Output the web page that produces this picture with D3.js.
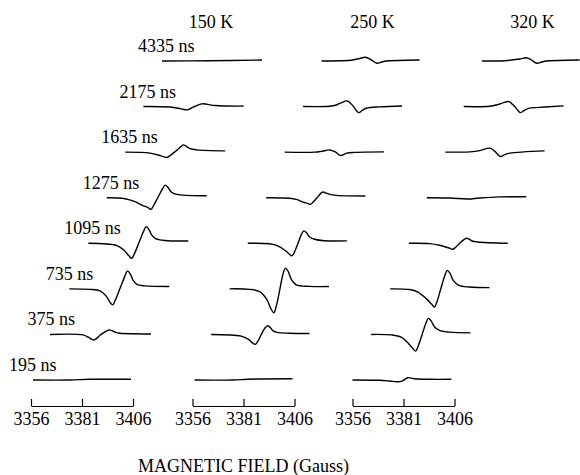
<!DOCTYPE html>
<head>
  <meta charset="utf-8">
  <style>
  body { margin: 0; background: #fff; }
  text {
    font-family: 'Liberation Serif', 'Times New Roman', serif;
    fill: #000;
  }
  .trace {
    fill: none;
    stroke: #000;
    stroke-width: 1.4px;
    stroke-linejoin: round;
  }
  .axis path, .axis line { stroke: #000; stroke-width: 1.2px; }
  .axis text { font-size: 18px; font-family: 'Liberation Serif', 'Times New Roman', serif; }
  </style>
</head>
<body>
  <svg id="chart"></svg>

  <script src="https://d3js.org/d3.v7.min.js"></script>
  <script>

  var width = 580,
      height = 475;

  // Column headers, row labels and field ticks
  var temperatures = ['150 K', '250 K', '320 K'];
  var delays = ['195 ns', '375 ns', '735 ns', '1095 ns', '1275 ns', '1635 ns', '2175 ns', '4335 ns'];
  var fieldTicks = [3356, 3381, 3406];

  // Spectra as [field (G), signal (a.u.)], one list per delay, bottom row first
  var spectra150 = [
    [[3357, 0], [3375, 0], [3385, 0.7], [3405, 0.7]],
    [[3356.3, 0], [3372.5, -0.5], [3375, -2.8], [3376.6, -4.7], [3377.9, -5.5], [3379.1, -4], [3381.3, 0], [3384, 3.3],
     [3385.3, 4.5], [3386.6, 3.8], [3388.5, 2], [3390.6, 1.2], [3405.8, 0.5]],
    [[3356.7, 0], [3366.9, -0.5], [3371.8, -2], [3374.7, -7], [3376.7, -13.6], [3378, -16], [3379.2, -11.5], [3381.5, 0],
     [3384, 13], [3385.2, 18], [3386.5, 15.3], [3388, 8.5], [3389.8, 4.5], [3393.8, 3], [3405.7, 2.4]],
    [[3357, 0], [3371, -2.3], [3374.5, -7], [3377, -12.8], [3378.3, -15], [3379.5, -10.8], [3381.7, 0], [3384.1, 12],
     [3385.3, 16.7], [3386.6, 14.2], [3388, 8.5], [3389.7, 5], [3394.6, 2.8], [3406, 2.3]],
    [[3357, 0], [3366, -1], [3370.9, -4], [3374.8, -8], [3377.3, -10], [3378.6, -11.7], [3379.8, -8.4], [3382, 0],
     [3384.4, 9], [3385.6, 12.6], [3386.9, 10.7], [3388.5, 6], [3391.3, 3.3], [3406, 2]],
    [[3357, 0], [3369.2, -1], [3374.1, -3.5], [3376.1, -4.7], [3377.4, -5.3], [3378.6, -4], [3381.5, 0.5], [3384.3, 5.5],
     [3385.5, 7.3], [3386.8, 6], [3388.8, 3.5], [3392.1, 2.3], [3406, 1.3]],
    [[3356.9, 0], [3370, -0.5], [3374.9, -2], [3378.2, -3.3], [3381.3, -0.5], [3385.5, 2.7], [3392.1, 1], [3406, 0.5]],
    [[3357, 0], [3380, 0.3], [3406, 1]]
  ];

  var spectra250 = [
    [[3357, 0], [3376, 0], [3383, 0.8], [3405, 1.2]],
    [[3356.1, 0], [3370.8, -1.7], [3374.4, -5], [3376.4, -8.5], [3377.7, -10], [3378.9, -7.2], [3380.7, 0], [3382.4, 6.2],
     [3383.6, 8.6], [3384.9, 7.3], [3386.5, 3.5], [3388.5, 2], [3394.5, 1.2], [3404.3, 1]],
    [[3356.1, 0], [3365.9, -0.5], [3370.8, -2.7], [3374.2, -10], [3376.5, -20.4], [3377.8, -24], [3379, -17.3], [3380.8, 0],
     [3382.3, 14.9], [3383.5, 20.7], [3384.8, 17.6], [3386.5, 9], [3388.8, 4], [3395.3, 2.5], [3404.8, 2.3]],
    [[3356, 0], [3366.7, -0.5], [3370.7, -2.6], [3374.5, -7.5], [3376.3, -10.7], [3377.6, -12.6], [3378.8, -9.1], [3380.6, 0],
     [3382.3, 8.9], [3383.5, 12.4], [3384.8, 10.5], [3386.5, 6], [3388.7, 4], [3393.6, 2.5], [3404.6, 2.4]],
    [[3356, 0], [3367.5, -0.5], [3370.7, -1.7], [3374.3, -4.5], [3376.3, -5.7], [3377.6, -6.7], [3378.8, -4.8], [3380.9, 0],
     [3382.6, 4.1], [3383.8, 5.7], [3385.1, 4.8], [3387.1, 3.3], [3390.3, 2.3], [3404.6, 1.7]],
    [[3356, 0], [3370.7, 0], [3374.1, 0.8], [3378.1, 2.2], [3381, 0], [3383.4, -3.3], [3386.4, -1], [3390.3, -0.2], [3404.7, 0.3]],
    [[3356, 0], [3369, 0.3], [3372.3, 1.6], [3374.4, 3.5], [3377.7, 5.6], [3380.3, 1], [3383.2, -6], [3385.2, -3.5],
     [3387, -1.7], [3393.5, -0.3], [3404.5, 0.6]],
    [[3356, 0], [3364.9, 0.2], [3371.4, 1], [3374.7, 2.5], [3377.5, 3.7], [3380.1, 1.5], [3383.2, -2.3], [3385.5, -1],
     [3387.8, 0], [3404.1, 1]]
  ];

  var spectra320 = [
    [[3356, 0], [3369.2, -0.3], [3374.1, -1], [3378.1, -1.8], [3380.5, -0.8], [3383.1, 2.3], [3386.4, 1.3], [3393.7, 0.7], [3404.5, 0.7]],
    [[3356.1, 0], [3366.1, -0.5], [3370.8, -2.7], [3374.4, -9], [3376.6, -14.2], [3377.9, -16.7], [3379.1, -12], [3381.1, 0],
     [3383, 11.5], [3384.2, 16], [3385.5, 13.6], [3387, 8], [3389.6, 4], [3394.5, 2.3], [3404.8, 1.6]],
    [[3356.4, 0], [3365.9, -0.7], [3370, -3.2], [3374.2, -10], [3376.8, -15.5], [3378.1, -18.2], [3379.3, -13.1], [3381.2, 0],
     [3383.2, 13.3], [3384.4, 18.5], [3385.7, 15.7], [3387.3, 8.5], [3390.1, 3.5], [3395.3, 1.8], [3405.1, 1.2]],
    [[3356.5, 0], [3366.7, -0.3], [3371.6, -2], [3375, -4], [3376.8, -5.1], [3378.1, -6], [3379.3, -4.3], [3381.4, 0],
     [3383.5, 3.6], [3384.7, 5], [3386, 4.2], [3387.5, 2.3], [3390.3, 1.3], [3405, 0]],
    [[3356.3, 0], [3367.5, -0.3], [3376.4, -1.3], [3382.2, -0.3], [3392, 0.8], [3405, 1]],
    [[3356.3, 0], [3368.3, 0.3], [3373.2, 1.5], [3378.1, 4], [3380.5, 1], [3383.3, -4.4], [3385.4, -2.5], [3387.9, -1], [3405, 1.3]],
    [[3356.3, 0], [3369, 0.3], [3373, 2], [3375.9, 4], [3378.5, 5], [3381.3, 0], [3384.1, -6], [3386.2, -3.5],
     [3388.6, -1.6], [3396, -0.5], [3405.3, 0.7]],
    [[3356.2, 0], [3367.4, 0.3], [3374.7, 2], [3378, 3.3], [3380.1, 1.5], [3383.2, -2.3], [3385.5, -1], [3387.8, 0], [3404.1, 1]]
  ];

  var spectra = [spectra150, spectra250, spectra320];

  // Layout
  var colX = [31, 192.5, 352.5],
      panelWidth = 102,
      axisY = 406;

  var x = d3.scaleLinear()
    .domain([fieldTicks[0], fieldTicks[fieldTicks.length - 1]])
    .range([0, panelWidth]);

  // each later delay is stacked up and to the right
  var rowShift = d3.scaleLinear().domain([0, delays.length - 1]).range([0, 129]);
  var rowBase = d3.scaleLinear().domain([0, delays.length - 1]).range([380, 61]);

  var amp = d3.scaleLinear().domain([0, 1]).range([0, -1]);

  var line = d3.line()
    .x(function(d) { return x(d[0]); })
    .y(function(d) { return amp(d[1]); })
    .curve(d3.curveCatmullRom.alpha(0.5));

  var svg = d3.select('#chart')
    .attr('width', width)
    .attr('height', height)
    .attr('font-family', "'Liberation Serif', serif");

  var columns = svg.selectAll('g.column')
    .data(spectra)
    .enter().append('g')
      .attr('class', 'column')
      .attr('transform', function(d, i) { return 'translate(' + colX[i] + ',0)'; });

  columns.selectAll('g.row')
    .data(function(d) { return d; })
    .enter().append('g')
      .attr('class', 'row')
      .attr('transform', function(d, i) { return 'translate(' + rowShift(i) + ',' + rowBase(i) + ')'; })
    .append('path')
      .attr('class', 'trace')
      .attr('d', line);

  // Temperature headers over the top trace
  columns.append('text')
    .attr('x', rowShift(delays.length - 1) + panelWidth / 2)
    .attr('y', rowBase(delays.length - 1) - 33)
    .attr('text-anchor', 'middle')
    .style('font-size', '18px')
    .text(function(d, i) { return temperatures[i]; });

  // Delay labels, first column only
  svg.append('g')
    .attr('transform', 'translate(' + colX[0] + ',0)')
    .selectAll('text')
    .data(delays)
    .enter().append('text')
      .attr('x', function(d, i) { return rowShift(i) - 22; })
      .attr('y', function(d, i) { return rowBase(i) - 9; })
      .style('font-size', '18px')
      .text(function(d) { return d; });

  // Field axes, ticks pointing up
  var axis = d3.axisBottom(x)
    .tickValues(fieldTicks)
    .tickFormat(d3.format('d'))
    .tickSizeInner(-7)
    .tickSizeOuter(0)
    .tickPadding(6);

  colX.forEach(function(cx) {
    svg.append('g')
      .attr('class', 'axis')
      .attr('transform', 'translate(' + cx + ',' + axisY + ')')
      .call(axis)
      .call(function(g) { g.selectAll('text').attr('fill', '#000'); });
  });

  svg.append('text')
    .attr('x', colX[1] + panelWidth / 2)
    .attr('y', 472)
    .attr('text-anchor', 'middle')
    .style('font-size', '18px')
    .text('MAGNETIC FIELD (Gauss)');

  </script>
</body>
